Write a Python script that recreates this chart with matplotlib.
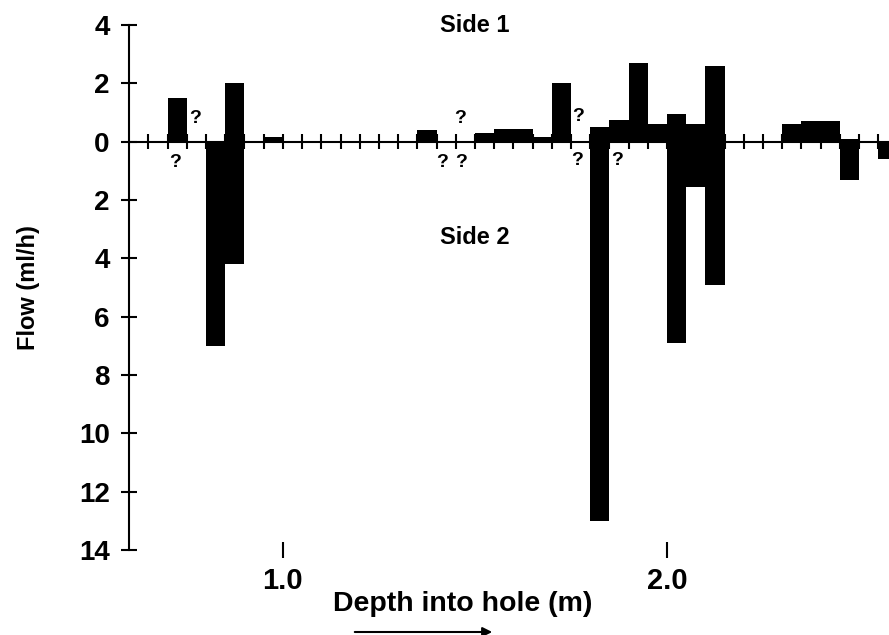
#!/usr/bin/env python3
"""Flow into a borehole, side 1 (up) and side 2 (down), by depth."""
import numpy as np
import matplotlib
matplotlib.use('Agg')
import matplotlib.pyplot as plt

plt.rcParams['font.family'] = ['Liberation Sans', 'DejaVu Sans']
plt.rcParams['font.weight'] = 'bold'

# Bins are 5 cm long; depths are the start of each bin (m)
bin_width = 0.05
side1_depth = [0.70, 0.85, 0.95, 1.35, 1.50, 1.55, 1.60, 1.65, 1.70, 1.80,
               1.85, 1.90, 1.95, 2.00, 2.05, 2.10, 2.30, 2.35, 2.40, 2.45]
side1_flow = [1.5, 2.0, 0.15, 0.4, 0.3, 0.45, 0.45, 0.15, 2.0, 0.5,
              0.75, 2.7, 0.6, 0.95, 0.6, 2.6, 0.6, 0.7, 0.7, 0.1]
side2_depth = [0.80, 0.85, 1.80, 2.00, 2.05, 2.10, 2.45, 2.55]
side2_flow = [7.0, 4.2, 13.0, 6.9, 1.55, 4.9, 1.3, 0.6]

# Uncertain measurements marked with "?"
query_x = [0.719, 0.771, 1.461, 1.414, 1.464, 1.768, 1.766, 1.870]
query_y = [-0.70, 0.81, 0.81, -0.70, -0.70, 0.88, -0.63, -0.63]

y_ticks = np.arange(-14, 5, 2)
depth_ticks = [1.0, 2.0]

fig = plt.figure(figsize=(8.89, 6.35), dpi=100)
ax = fig.add_axes([0.1454, 0.1339, 0.8546, 0.8267])

ax.bar(side1_depth, side1_flow, width=bin_width, align='edge',
       color='black', zorder=3)
ax.bar(side2_depth, [-v for v in side2_flow], width=bin_width, align='edge',
       color='black', zorder=3)

# zero line with a cross tick at every bin edge
ax.axhline(0, color='black', lw=1.5, zorder=2)
edges = 0.6 + bin_width * np.arange(1, 40)
ax.vlines(edges, -0.25, 0.25, color='black', lw=1.5, zorder=2)

for qx, qy in zip(query_x, query_y):
    ax.text(qx, qy, '?', ha='center', va='center', fontsize=14,
            fontweight='bold')

ax.text(1.50, 4.0, 'Side 1', ha='center', va='center', fontsize=17,
        fontweight='bold')
ax.text(1.50, -3.27, 'Side 2', ha='center', va='center', fontsize=17,
        fontweight='bold')

ax.set_xlim(0.6, 2.578)
ax.set_ylim(-14, 4)
for side in ['top', 'right', 'bottom']:
    ax.spines[side].set_visible(False)
ax.spines['left'].set_linewidth(1.5)

ax.set_yticks(y_ticks)
ax.set_yticklabels([str(abs(int(t))) for t in y_ticks])
ax.tick_params(axis='y', direction='inout', length=12, width=1.5,
               labelsize=20, pad=8)
ax.set_xticks(depth_ticks)
ax.set_xticklabels(['1.0', '2.0'])
ax.tick_params(axis='x', direction='inout', length=12, width=1.5,
               labelsize=21, pad=6)

ax.set_ylabel('Flow (ml/h)', fontsize=17, fontweight='bold')
ax.yaxis.set_label_coords(-0.118, 0.5)
ax.set_xlabel('Depth into hole (m)', fontsize=20.5, fontweight='bold')
ax.xaxis.set_label_coords(0.439, -0.078)

ax.annotate('', xy=(495 / 889, 1 - 632 / 635), xytext=(352 / 889, 1 - 632 / 635),
            xycoords='figure fraction', textcoords='figure fraction',
            arrowprops=dict(arrowstyle='-|>', lw=1.5, color='black',
                            mutation_scale=14))

plt.savefig('out.png', dpi=100)
print("Generated: out.png")
